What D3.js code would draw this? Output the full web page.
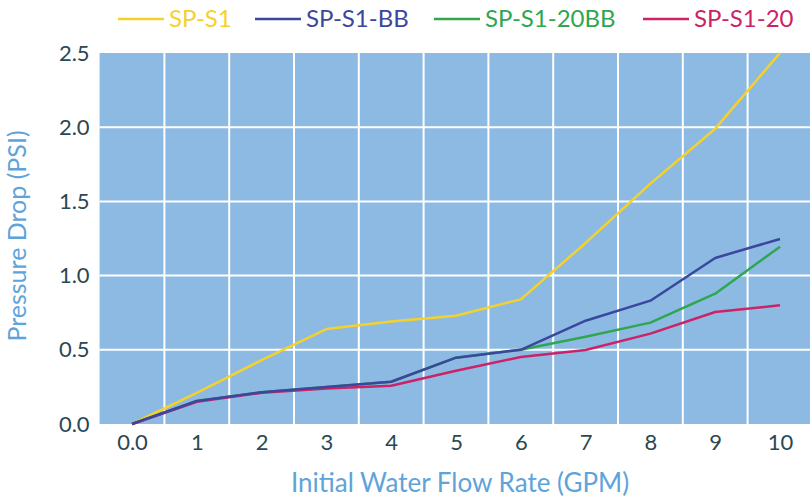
<!DOCTYPE html>
<html>
<head>
<meta charset="utf-8">
<script src="https://cdn.jsdelivr.net/npm/d3@7"></script>
<style>
  body { margin: 0; background: #fff; }
  text { font-family: Lato, "Open Sans", sans-serif; }
</style>
</head>
<body>
<script>
'use strict';

// flow rate categories (GPM)
const flowRates = [0, 1, 2, 3, 4, 5, 6, 7, 8, 9, 10];
const flowLabels = ["0.0", "1", "2", "3", "4", "5", "6", "7", "8", "9", "10"];
const yTicks = [0, 0.5, 1.0, 1.5, 2.0, 2.5];

// pressure drop (PSI) per model
const spS1 = [0, 0.21, 0.43, 0.64, 0.69, 0.73, 0.84, 1.22, 1.62, 1.99, 2.5];
const spS1BB = [0, 0.155, 0.214, 0.25, 0.285, 0.447, 0.50, 0.696, 0.831, 1.119, 1.247];
const spS120BB = [0, 0.155, 0.214, 0.25, 0.285, 0.447, 0.50, 0.588, 0.683, 0.878, 1.195];
const spS120 = [0, 0.15, 0.21, 0.24, 0.258, 0.359, 0.451, 0.499, 0.609, 0.755, 0.80];

const seriesNames = ["SP-S1", "SP-S1-BB", "SP-S1-20BB", "SP-S1-20"];
const seriesColors = ["#f4d22b", "#3b479d", "#2fa64f", "#cc2368"];

(function() {
  const width = 810, height = 500;
  const left = 99.6, right = 812.4, top = 53, bottom = 424;

  let svg = d3.select('body').append('svg')
    .attr('width', width)
    .attr('height', height);

  // x is categorical, points sit in the middle of each band
  let x = d3.scalePoint()
    .domain(flowRates)
    .range([left, right])
    .padding(0.5);
  let step = x.step();

  let y = d3.scaleLinear()
    .domain([0, 2.5])
    .range([bottom, top]);

  // plot background
  svg.append('rect')
    .attr('x', left)
    .attr('y', top)
    .attr('width', right - left)
    .attr('height', bottom - top)
    .attr('fill', '#8cbae2');

  // vertical grid at band boundaries
  svg.append('g')
    .selectAll('line')
    .data(flowRates.slice(1))
    .enter()
    .append('line')
      .attr('x1', (d) => x(d) - step / 2)
      .attr('x2', (d) => x(d) - step / 2)
      .attr('y1', top)
      .attr('y2', bottom)
      .attr('stroke', '#fff')
      .attr('stroke-width', 2);

  // horizontal grid
  svg.append('g')
    .selectAll('line')
    .data(yTicks.filter((d) => d > 0 && d < 2.5))
    .enter()
    .append('line')
      .attr('x1', left)
      .attr('x2', right)
      .attr('y1', (d) => y(d))
      .attr('y2', (d) => y(d))
      .attr('stroke', '#fff')
      .attr('stroke-width', 2);

  // y axis labels
  let yAxis = d3.axisLeft(y)
    .tickValues(yTicks)
    .tickFormat(d3.format('.1f'))
    .tickSize(0)
    .tickPadding(10);
  let gy = svg.append('g')
    .attr('transform', 'translate(' + left + ',0)')
    .call(yAxis);
  gy.select('.domain').remove();
  gy.selectAll('text')
    .attr('fill', '#2b4852')
    .style('font-size', '22px')
    .style('font-family', 'Lato, sans-serif');

  // x axis labels
  let xAxis = d3.axisBottom(x)
    .tickFormat((d, i) => flowLabels[i])
    .tickSize(0)
    .tickPadding(10);
  let gx = svg.append('g')
    .attr('transform', 'translate(0,' + bottom + ')')
    .call(xAxis);
  gx.select('.domain').remove();
  gx.selectAll('text')
    .attr('fill', '#2b4852')
    .style('font-size', '22px')
    .style('font-family', 'Lato, sans-serif');

  // lines, drawn so the blue one sits on top
  let allSeries = [spS1, spS1BB, spS120BB, spS120];
  let order = [0, 2, 3, 1];
  let line = d3.line()
    .x((d, i) => x(flowRates[i]))
    .y((d) => y(d));

  svg.append('g')
    .selectAll('path')
    .data(order)
    .enter()
    .append('path')
      .attr('d', (k) => line(allSeries[k]))
      .attr('fill', 'none')
      .attr('stroke', (k) => seriesColors[k])
      .attr('stroke-width', 2.5)
      .attr('stroke-linejoin', 'round');

  // legend
  let legendX = [118, 255, 434, 643];
  let lg = svg.append('g');
  seriesNames.forEach(function(name, i) {
    lg.append('line')
      .attr('x1', legendX[i])
      .attr('x2', legendX[i] + 46)
      .attr('y1', 19)
      .attr('y2', 19)
      .attr('stroke', seriesColors[i])
      .attr('stroke-width', 2.5);
    lg.append('text')
      .attr('x', legendX[i] + 51)
      .attr('y', 19)
      .attr('dy', '0.35em')
      .attr('fill', seriesColors[i])
      .style('font-size', '24px')
      .text(name);
  });

  // axis titles
  svg.append('text')
    .attr('x', 460)
    .attr('y', 492)
    .attr('text-anchor', 'middle')
    .attr('fill', '#5ea3da')
    .style('font-size', '26px')
    .text('Initial Water Flow Rate (GPM)');

  svg.append('text')
    .attr('transform', 'translate(26, 236)rotate(-90)')
    .attr('text-anchor', 'middle')
    .attr('fill', '#5ea3da')
    .style('font-size', '25px')
    .text('Pressure Drop (PSI)');
})();
</script>
</body>
</html>
